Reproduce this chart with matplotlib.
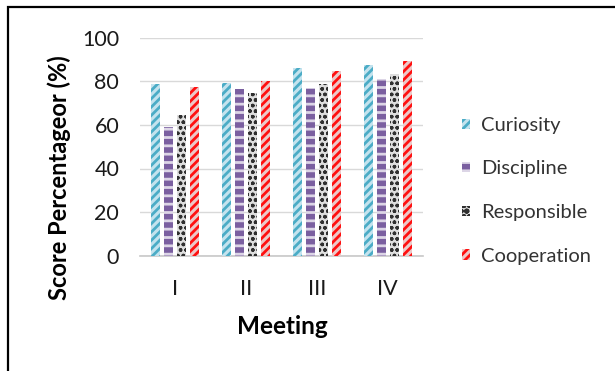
import matplotlib
matplotlib.use("Agg")
import matplotlib.pyplot as plt
import numpy as np
from matplotlib.patches import Rectangle

plt.rcParams['font.family'] = ['Lato', 'DejaVu Sans']
plt.rcParams['hatch.linewidth'] = 2.0

meetings = ["I", "II", "III", "IV"]
series = ["Curiosity", "Discipline", "Responsible", "Cooperation"]
curiosity = [78.6, 79.2, 86.0, 87.5]
discipline = [59.2, 76.5, 77.1, 80.9]
responsible = [64.4, 74.5, 78.6, 83.2]
cooperation = [77.5, 80.0, 84.9, 89.3]
values = [curiosity, discipline, responsible, cooperation]

faces = ["#c4e3ee", "#7a5fa0", "#dedede", "#ecc8c8"]
hatch_cols = ["#4bacc6", "#dcd5e6", "#303030", "#ff1010"]
hatches = ["////", "--", "ooo", "////"]
hatch_lw = [2.0, 2.0, 1.0, 2.0]

fig = plt.figure(figsize=(6.15, 3.71), dpi=100)
ax = fig.add_axes([140/615, 1-255.7/371, 283/615, 218/371])

x = np.arange(len(meetings))
pitch = 13/71
width = 9/71
for i, (name, vals) in enumerate(zip(series, values)):
    off = (i - 1.5) * pitch
    bars = ax.bar(x + off, vals, width, color=faces[i], edgecolor=hatch_cols[i],
                  hatch=hatches[i], linewidth=0, label=name, zorder=3)
    for b in bars:
        try:
            b.set_hatch_linewidth(hatch_lw[i])
        except AttributeError:
            pass

ax.set_xlim(-0.5, 3.5)
ax.set_ylim(0, 100)
ax.set_yticks([0, 20, 40, 60, 80, 100])
ax.set_xticks(x)
ax.set_xticklabels(meetings)
ax.grid(axis='y', color='#d9d9d9', linewidth=1, zorder=0)
for s in ['top', 'right', 'left']:
    ax.spines[s].set_visible(False)
ax.spines['bottom'].set_color('#c8c8c8')
ax.spines['bottom'].set_linewidth(1.2)
ax.tick_params(axis='both', length=0, labelsize=15.5, colors='#1a1a1a')
ax.tick_params(axis='y', pad=15)
ax.tick_params(axis='x', pad=17)

ax.set_ylabel("Score Percentageor (%)", fontsize=17, fontweight='bold')
ax.yaxis.set_label_coords(-0.244, 0.36)
ax.set_xlabel("Meeting", fontsize=17.5, fontweight='bold')
ax.xaxis.set_label_coords(0.502, -0.27)

leg = ax.legend(loc='upper left', bbox_to_anchor=(1.074, 0.72), frameon=False,
                fontsize=14.5, handlelength=0.4, handleheight=0.4,
                handletextpad=0.55, labelspacing=1.32, labelcolor='#333333')

fig.patches.append(Rectangle((8/615, -0.1), 1.2, 1.1 - 7/371, transform=fig.transFigure,
                             fill=False, edgecolor='black', linewidth=1.6))

fig.savefig("out.png", dpi=100)
